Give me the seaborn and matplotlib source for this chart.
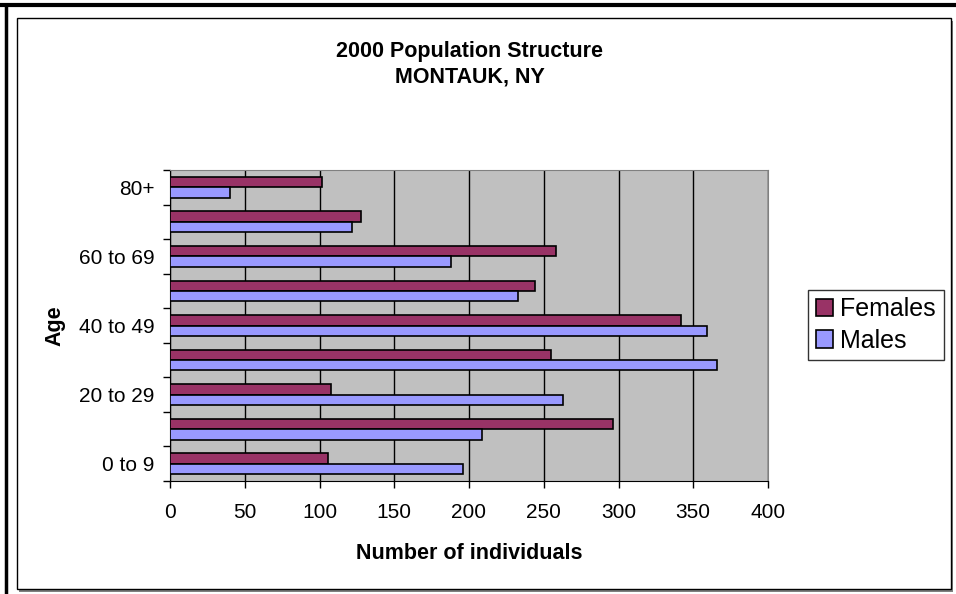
import pandas as pd
import numpy as np
import matplotlib.pyplot as plt
import seaborn as sns
from matplotlib.patches import Rectangle
from matplotlib.lines import Line2D

# data
ages = ['80+', '70 to 79', '60 to 69', '50 to 59', '40 to 49',
        '30 to 39', '20 to 29', '10 to 19', '0 to 9']
tick_labels = ['80+', '', '60 to 69', '', '40 to 49', '', '20 to 29', '', '0 to 9']
females = [102, 128, 258, 244, 342, 255, 108, 296, 106]
males = [40, 122, 188, 233, 359, 366, 263, 209, 196]
x_ticks = [0, 50, 100, 150, 200, 250, 300, 350, 400]

df = pd.DataFrame({
    'Age': ages * 2,
    'Count': females + males,
    'Sex': ['Females'] * len(ages) + ['Males'] * len(ages),
})

sns.set_style('white')
plt.rcParams['font.family'] = ['Liberation Sans', 'DejaVu Sans']
plt.rcParams.update({'text.color': 'black', 'axes.labelcolor': 'black',
                     'xtick.color': 'black', 'ytick.color': 'black'})

fig = plt.figure(figsize=(9.56, 5.94), dpi=100)
W, H = 956, 594

# page + chart borders
fig.add_artist(Line2D([0, 1], [1 - 5 / H, 1 - 5 / H], color='black', lw=3))
fig.add_artist(Line2D([6 / W, 6 / W], [0, 1 - 5 / H], color='black', lw=2.5))
fig.add_artist(Rectangle((19 / W, 2 / H), (953 - 19) / W, (588 - 17) / H,
                         facecolor='#808080', edgecolor='none', zorder=0))
fig.add_artist(Rectangle((17 / W, 5 / H), (951 - 17) / W, (588 - 17) / H,
                         facecolor='white', edgecolor='black', lw=1, zorder=0))

ax = fig.add_axes([170 / W, 1 - 481 / H, (768 - 170) / W, (481 - 170) / H])
ax.set_facecolor('#C0C0C0')

sns.barplot(data=df, y='Age', x='Count', hue='Sex', order=ages,
            hue_order=['Females', 'Males'],
            palette={'Females': '#993366', 'Males': '#9999FF'},
            orient='h', width=0.6, edgecolor='black', linewidth=1.2,
            saturation=1, ax=ax, zorder=3)

ax.set_xlim(0, 400)
ax.set_ylim(8.5, -0.5)
ax.set_xticks(x_ticks)
ax.set_xticklabels([str(t) for t in x_ticks], fontsize=15)
ax.grid(axis='x', color='black', lw=1, zorder=1)
ax.set_axisbelow(True)

ax.set_yticks(range(len(ages)))
ax.set_yticklabels(tick_labels, fontsize=15)
ax.set_yticks(np.arange(-0.5, len(ages), 1), minor=True)
ax.tick_params(axis='y', which='major', length=0, pad=11)
ax.tick_params(axis='y', which='minor', length=5, width=1, direction='out', left=True)
ax.tick_params(axis='x', which='major', length=5, width=1, direction='out', bottom=True, pad=11)

for side in ['top', 'right']:
    ax.spines[side].set_color('#808080')
for side in ['left', 'bottom']:
    ax.spines[side].set_color('black')

ax.set_xlabel('Number of individuals', fontsize=15.5, fontweight='bold', labelpad=15)
ax.set_ylabel('Age', fontsize=15.5, fontweight='bold', labelpad=10)

leg = ax.legend(loc='center left', bbox_to_anchor=(808 / W, 1 - 325 / H),
                bbox_transform=fig.transFigure, fontsize=18, frameon=True,
                fancybox=False, edgecolor='black', handlelength=0.7,
                handleheight=0.7, handletextpad=0.3, borderpad=0.3,
                labelspacing=0.3, borderaxespad=0)
leg.get_frame().set_linewidth(1)

fig.text(470 / W, 1 - 52 / H, '2000 Population Structure', ha='center', va='center',
         fontsize=15.5, fontweight='bold')
fig.text(470 / W, 1 - 77 / H, 'MONTAUK, NY', ha='center', va='center',
         fontsize=15.5, fontweight='bold')

fig.savefig('out.png', dpi=100)
